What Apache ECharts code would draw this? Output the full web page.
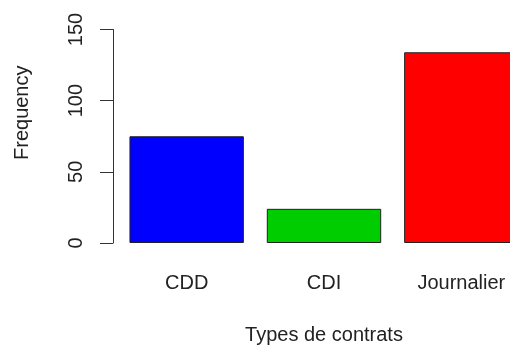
<!DOCTYPE html>
<html>
<head>
<meta charset="utf-8">
<script src="https://cdn.jsdelivr.net/npm/echarts@6/dist/echarts.min.js"></script>
<style>
  html, body { margin: 0; padding: 0; background: #fff; }
  #root { width: 510px; height: 350px; }
</style>
</head>
<body>
<div id="root"></div>
<script>
// types de contrats et effectifs
var categories = ['CDD', 'CDI', 'Journalier'];
var frequency = [75, 24, 134];
var barColors = ['#0000ff', '#00cd00', '#ff0000'];
var yTicks = [0, 50, 100, 150];

var font = 'Liberation Sans, Arial, sans-serif';

var option = {
  animation: false,
  backgroundColor: '#fff',
  // la zone de tracé dépasse à droite du cadre, comme dans l'original
  grid: {
    left: 118,
    width: 412,
    top: 29.5,
    bottom: 107,
    outerBoundsMode: 'none',
    containLabel: false
  },
  xAxis: {
    type: 'category',
    data: categories,
    name: 'Types de contrats',
    nameLocation: 'middle',
    nameGap: 82,
    nameTextStyle: { fontFamily: font, fontSize: 20, color: '#222' },
    axisLine: { show: false },
    axisTick: { show: false },
    axisLabel: { margin: 30, fontFamily: font, fontSize: 20, color: '#222' }
  },
  yAxis: {
    type: 'value',
    min: yTicks[0],
    max: yTicks[yTicks.length - 1],
    interval: 50,
    offset: 5,
    name: 'Frequency',
    nameLocation: 'middle',
    nameGap: 81,
    nameRotate: 90,
    nameTextStyle: {
      fontFamily: font, fontSize: 20, color: '#222',
      // centre du titre plus haut que le milieu du graphique
      padding: [0, 0, 0, 47]
    },
    splitLine: { show: false },
    axisLine: { show: true, lineStyle: { color: '#333', width: 1 } },
    axisTick: { show: true, length: 13, lineStyle: { color: '#333', width: 1 } },
    axisLabel: { rotate: 90, margin: 27, fontFamily: font, fontSize: 20, color: '#222' }
  },
  series: [
    {
      type: 'bar',
      barWidth: '83.3%',
      data: frequency.map(function(value, index) {
        return {
          value: value,
          itemStyle: { color: barColors[index] }
        };
      }),
      itemStyle: { borderColor: '#222', borderWidth: 1 }
    }
  ]
};

var myChart = echarts.init(document.getElementById('root'));
myChart.setOption(option);
</script>
</body>
</html>
